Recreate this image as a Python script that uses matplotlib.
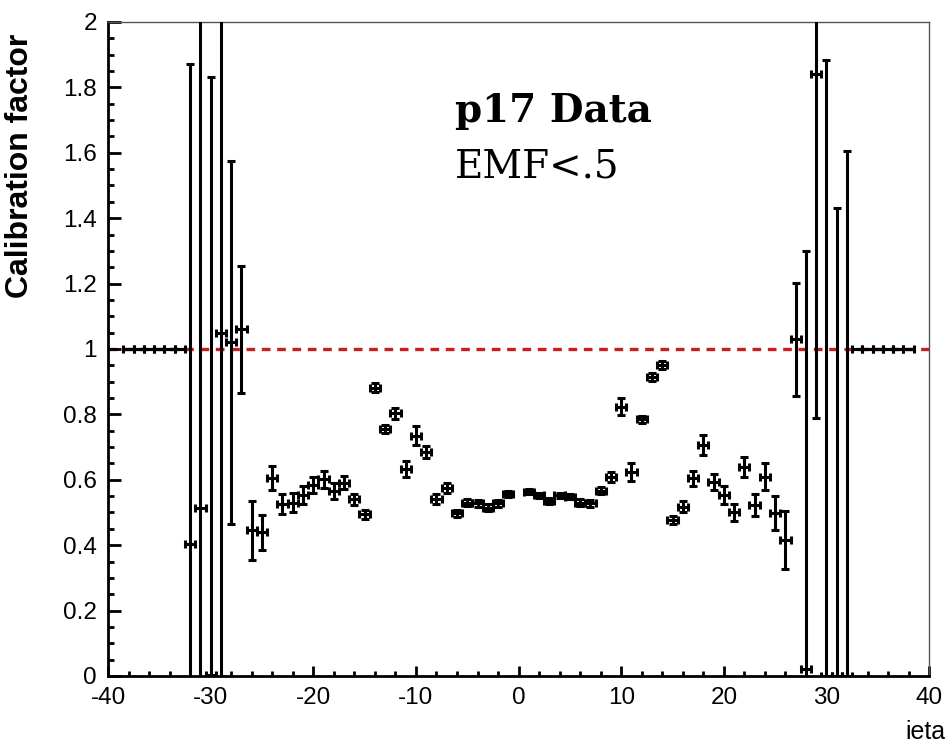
import numpy as np
import matplotlib
matplotlib.use("Agg")
import matplotlib.pyplot as plt
from matplotlib.ticker import MultipleLocator, FormatStrFormatter, FuncFormatter

# calibration factor per ieta bin (no bin at ieta = 0)
ieta = [-38, -37, -36, -35, -34, -33, -32, -31, -30, -29, -28, -27,
        -26, -25, -24, -23, -22, -21, -20, -19, -18, -17, -16, -15,
        -14, -13, -12, -11, -10, -9, -8, -7, -6, -5, -4, -3, -2, -1,
        1, 2, 3, 4, 5, 6, 7, 8, 9, 10, 11, 12, 13, 14,
        15, 16, 17, 18, 19, 20, 21, 22, 23, 24, 25, 26,
        27, 28, 29, 30, 31, 32, 33, 34, 35, 36, 37, 38]

calib = [1.0, 1.0, 1.0, 1.0, 1.0, 1.0, 0.404, 0.513, 0.003, 1.05, 1.02, 1.06,
         0.446, 0.439, 0.605, 0.526, 0.53, 0.553, 0.584, 0.601, 0.566, 0.591, 0.540, 0.494,
         0.882, 0.755, 0.803, 0.632, 0.735, 0.684, 0.541, 0.574, 0.497, 0.53, 0.528, 0.515, 0.528, 0.556,
         0.564, 0.553, 0.535, 0.553, 0.548, 0.53, 0.528, 0.567, 0.609, 0.824, 0.623, 0.785, 0.915, 0.951,
         0.477, 0.518, 0.605, 0.706, 0.594, 0.554, 0.50, 0.64, 0.523, 0.61, 0.498, 0.416,
         1.03, 0.02, 1.84, 0.0, 0.0, 0.0, 1.0, 1.0, 1.0, 1.0, 1.0, 1.0]

calib_err = [0, 0, 0, 0, 0, 0, 1.466, 1.6, 1.83, 1.1, 0.555, 0.195,
             0.09, 0.053, 0.037, 0.03, 0.03, 0.027, 0.025, 0.025, 0.025, 0.02, 0.017, 0.013,
             0.013, 0.012, 0.017, 0.025, 0.028, 0.018, 0.015, 0.015, 0.012, 0.01, 0.01, 0.01, 0.01, 0.01,
             0.008, 0.008, 0.01, 0.008, 0.008, 0.01, 0.01, 0.012, 0.015, 0.025, 0.028, 0.01, 0.013, 0.013,
             0.013, 0.017, 0.023, 0.031, 0.025, 0.027, 0.025, 0.03, 0.035, 0.04, 0.053, 0.09,
             0.173, 1.28, 1.05, 1.885, 1.43, 1.606, 0, 0, 0, 0, 0, 0]

bin_halfwidth = 0.5

plt.rcParams['font.family'] = ['Liberation Sans', 'DejaVu Sans']

fig = plt.figure(figsize=(9.5, 7.48), dpi=100)
ax = fig.add_axes([0.1137, 0.0963, 0.8643, 0.8743])

ax.axhline(1.0, color='#c81e1e', lw=2.4, ls=(0, (2.6, 2.0)), zorder=1)

ax.errorbar(ieta, calib, yerr=calib_err,
            xerr=np.full(len(ieta), bin_halfwidth),
            fmt='none', ecolor='black', elinewidth=2.2,
            capsize=3, capthick=2.2, zorder=3)

ax.set_xlim(-40, 40)
ax.set_ylim(0, 2)

ax.xaxis.set_major_locator(MultipleLocator(10))
ax.xaxis.set_minor_locator(MultipleLocator(2))
ax.yaxis.set_major_locator(MultipleLocator(0.2))
ax.yaxis.set_minor_locator(MultipleLocator(0.05))
ax.xaxis.set_major_formatter(FormatStrFormatter('%d'))
ax.yaxis.set_major_formatter(FuncFormatter(lambda v, p: '%g' % round(v, 2)))

ax.tick_params(axis='both', which='both', direction='in', labelsize=17.5,
               width=2, colors='black')
ax.tick_params(axis='x', which='major', length=7, pad=8)
ax.tick_params(axis='x', which='minor', length=3.5)
ax.tick_params(axis='y', which='major', length=9, pad=8)
ax.tick_params(axis='y', which='minor', length=4.5)

for side in ['left', 'bottom']:
    ax.spines[side].set_linewidth(2)
    ax.spines[side].set_color('black')
for side in ['top', 'right']:
    ax.spines[side].set_linewidth(1)
    ax.spines[side].set_color('#555555')

ax.set_ylabel('Calibration factor', fontsize=23, fontweight='bold')
ax.yaxis.set_label_coords(-0.089, 0.78)
fig.text(0.995, 0.022, 'ieta', fontsize=18, ha='right', va='center')

ax.text(-6.2, 1.694, 'p17 Data', family='DejaVu Serif', fontweight='bold',
        fontsize=28)
ax.text(-6.2, 1.523, 'EMF<.5', family='DejaVu Serif', fontsize=28)

fig.savefig('out.png', dpi=100, facecolor='white')
